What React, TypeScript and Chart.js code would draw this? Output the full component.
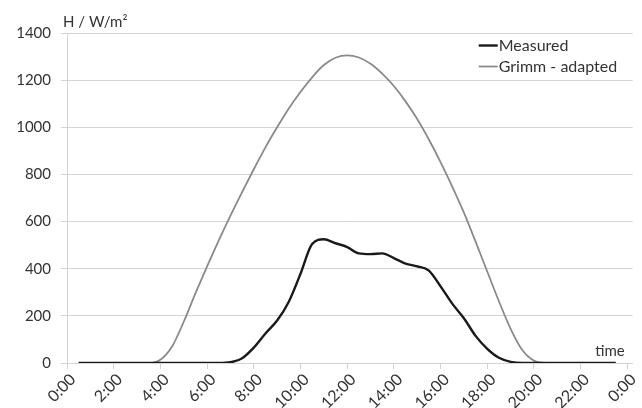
import React, { useEffect, useRef } from "react";
import { Chart, registerables } from "chart.js";

Chart.register(...registerables);

const HOURS = [
  0.5, 1, 1.5, 2, 2.5, 3, 3.5, 4, 4.5, 5, 5.5, 6, 6.5, 7, 7.5, 8, 8.5, 9, 9.5, 10,
  10.5, 11, 11.5, 12, 12.5, 13, 13.5, 14, 14.5, 15, 15.5, 16, 16.5, 17, 17.5, 18,
  18.5, 19, 19.5, 20, 20.5, 21, 21.5, 22, 22.5, 23, 23.5,
];

const MEASURED = [
  0, 0, 0, 0, 0, 0, 0, 0, 0, 0, 0, 0, 0,
  3, 20, 65, 125, 180, 260, 378, 505, 525, 508, 492, 465, 462, 465, 445, 422, 410,
  392, 325, 252, 190, 115, 60, 22, 5,
  0, 0, 0, 0, 0, 0, 0, 0, 0,
];

const GRIMM = [
  0, 0, 0, 0, 0, 0, 0,
  14, 70, 175, 295, 410, 520, 625, 725, 822, 915, 1000, 1080, 1150, 1212, 1264, 1295,
  1305, 1296, 1270, 1228, 1175, 1110, 1035, 948, 852, 748, 638, 515, 388, 262, 145,
  55, 10,
  0, 0, 0, 0, 0, 0, 0,
];

const X_TICKS = [0, 2, 4, 6, 8, 10, 12, 14, 16, 18, 20, 22, 24];
const Y_TICKS = [0, 200, 400, 600, 800, 1000, 1200, 1400];
const SERIES_LABELS = ["Measured", "Grimm - adapted"];
const Y_TITLE = "H / W/m²";
const X_TITLE = "time";

const FONT_FAMILY = "Lato";
const TEXT_COLOR = "#333333";
const GRID_COLOR = "#d4d4d4";

const overlayPlugin = {
  id: "overlay",
  afterDraw(chart: any) {
    const { ctx, chartArea } = chart;
    ctx.save();
    ctx.font = `15px ${FONT_FAMILY}`;
    ctx.fillStyle = TEXT_COLOR;
    ctx.textBaseline = "middle";
    ctx.textAlign = "left";
    ctx.fillText(Y_TITLE, chartArea.left - 4, chartArea.top - 11);
    ctx.textAlign = "right";
    ctx.fillText(X_TITLE, chartArea.right - 8, chartArea.bottom - 12);
    ctx.font = `16px ${FONT_FAMILY}`;
    chart.data.datasets.forEach((ds: any, i: number) => {
      const y = chartArea.top + 12.5 + i * 21;
      const x0 = chartArea.right - 154;
      ctx.strokeStyle = ds.borderColor;
      ctx.lineWidth = ds.borderWidth;
      ctx.beginPath();
      ctx.moveTo(x0, y);
      ctx.lineTo(x0 + 19, y);
      ctx.stroke();
      ctx.textAlign = "left";
      ctx.fillText(ds.label, x0 + 20, y + 0.5);
    });
    ctx.restore();
  },
};

export default function App() {
  const canvasRef = useRef<HTMLCanvasElement | null>(null);

  useEffect(() => {
    if (!canvasRef.current) return;
    const chart = new Chart(canvasRef.current, {
      type: "line",
      data: {
        datasets: [
          {
            label: SERIES_LABELS[0],
            data: HOURS.map((h, i) => ({ x: h, y: MEASURED[i] })),
            borderColor: "#1a1a1a",
            borderWidth: 2.4,
            pointRadius: 0,
            cubicInterpolationMode: "monotone",
            fill: false,
          },
          {
            label: SERIES_LABELS[1],
            data: HOURS.map((h, i) => ({ x: h, y: GRIMM[i] })),
            borderColor: "#8a8a8a",
            borderWidth: 1.8,
            pointRadius: 0,
            cubicInterpolationMode: "monotone",
            fill: false,
          },
        ],
      },
      options: {
        responsive: false,
        animation: false,
        layout: { padding: { left: 0, right: 9, top: 33, bottom: 0 } },
        plugins: {
          legend: { display: false },
          tooltip: { enabled: false },
        },
        scales: {
          x: {
            type: "linear",
            min: 0,
            max: 24.23,
            afterBuildTicks: (scale: any) => {
              scale.ticks = X_TICKS.map((v) => ({ value: v }));
            },
            afterFit: (scale: any) => {
              scale.height = 45;
            },
            ticks: {
              autoSkip: false,
              maxRotation: 45,
              minRotation: 45,
              padding: 1,
              labelOffset: 6,
              color: TEXT_COLOR,
              font: { family: FONT_FAMILY, size: 16 },
              callback: (v: any) => `${Number(v) % 24}:00`,
            },
            grid: {
              drawOnChartArea: false,
              drawTicks: true,
              tickLength: 6,
              color: GRID_COLOR,
            },
            border: { display: true, color: GRID_COLOR, width: 1 },
          },
          y: {
            min: 0,
            max: 1400,
            afterBuildTicks: (scale: any) => {
              scale.ticks = Y_TICKS.map((v) => ({ value: v }));
            },
            afterFit: (scale: any) => {
              scale.width = 67;
            },
            ticks: {
              padding: 10,
              color: TEXT_COLOR,
              font: { family: FONT_FAMILY, size: 15 },
              callback: (v: any) => String(v),
            },
            grid: {
              color: GRID_COLOR,
              lineWidth: 1,
              tickLength: 6,
            },
            border: { display: true, color: GRID_COLOR, width: 1 },
          },
        },
      },
      plugins: [overlayPlugin],
    } as any);
    return () => chart.destroy();
  }, []);

  return (
    <div style={{ position: "fixed", left: 0, top: 0, width: 642, height: 408, background: "#fff" }}>
      <canvas ref={canvasRef} width={642} height={408} />
    </div>
  );
}
